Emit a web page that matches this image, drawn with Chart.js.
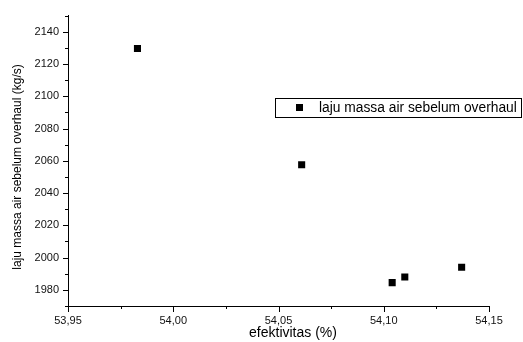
<!DOCTYPE html>
<html><head><meta charset="utf-8">
<script src="https://cdn.jsdelivr.net/npm/chart.js@4/dist/chart.umd.min.js"></script>
<style>html,body{margin:0;padding:0;background:#fff}#wrap{width:523px;height:342px}</style>
</head><body><div id="wrap"><canvas id="c" width="523" height="342"></canvas></div>
<script>
const seriesLabel = 'laju massa air sebelum overhaul';
const efektivitas = [53.983, 54.061, 54.104, 54.110, 54.137];
const lajuMassa = [2129.6, 2057.5, 1984.5, 1988.0, 1994.0];
const xTicks = [53.95, 54.00, 54.05, 54.10, 54.15];
const yTicks = [1980, 2000, 2020, 2040, 2060, 2080, 2100, 2120, 2140];
const xTitle = 'efektivitas (%)';
const yTitle = 'laju massa air sebelum overhaul (kg/s)';

const FONT = '"Liberation Sans", Arial, sans-serif';

const extras = {
  id: 'extras',
  afterDraw(chart) {
    const ctx = chart.ctx, xs = chart.scales.x, ys = chart.scales.y;
    const ca = chart.chartArea;
    ctx.save();
    ctx.strokeStyle = '#000'; ctx.lineWidth = 1;
    for (let v = 1970; v <= 2150; v += 10) {
      const p = Math.round(ys.getPixelForValue(v)) + 0.5;
      const len = (v % 20 === 0) ? 5 : 3;
      ctx.beginPath(); ctx.moveTo(ca.left - len, p); ctx.lineTo(ca.left, p); ctx.stroke();
    }
    for (let i = 0; i <= 8; i++) {
      const v = 53.95 + i * 0.025;
      const p = Math.round(xs.getPixelForValue(v)) + 0.5;
      const len = (i % 2 === 0) ? 6 : 3;
      ctx.beginPath(); ctx.moveTo(p, ca.bottom); ctx.lineTo(p, ca.bottom + len); ctx.stroke();
    }
    ctx.fillStyle = '#000';
    ctx.font = '14px ' + FONT;
    ctx.textAlign = 'center'; ctx.textBaseline = 'middle';
    ctx.fillText(xTitle, 293, 333);
    ctx.font = '12px ' + FONT;
    ctx.save();
    ctx.translate(18, 167); ctx.rotate(-Math.PI / 2);
    ctx.fillText(yTitle, 0, 0);
    ctx.restore();
    ctx.strokeStyle = '#000'; ctx.lineWidth = 1;
    ctx.strokeRect(275.5, 98.5, 246, 19);
    ctx.fillRect(296, 104, 7, 7);
    ctx.font = '13.8px ' + FONT;
    ctx.textAlign = 'left'; ctx.textBaseline = 'middle';
    ctx.fillText(chart.data.datasets[0].label, 319, 108);
    ctx.restore();
  }
};

new Chart(document.getElementById('c'), {
  type: 'scatter',
  data: {
    datasets: [{
      label: seriesLabel,
      data: efektivitas.map((x, i) => ({ x, y: lajuMassa[i] })),
      pointStyle: 'rect',
      pointRadius: 5,
      pointHoverRadius: 5,
      borderWidth: 0,
      backgroundColor: '#000',
      borderColor: '#000'
    }]
  },
  options: {
    responsive: false,
    animation: false,
    devicePixelRatio: 1,
    layout: { padding: { left: 0, top: 13, right: 34, bottom: 0 } },
    plugins: { legend: { display: false }, tooltip: { enabled: false } },
    scales: {
      x: {
        type: 'linear', min: 53.95, max: 54.15,
        afterBuildTicks(s) { s.ticks = xTicks.map(v => ({ value: v })); },
        afterFit(s) { s.height = 36; },
        grid: { display: false, drawTicks: false },
        border: { display: true, color: '#000', width: 1 },
        ticks: {
          color: '#111', padding: 8, maxRotation: 0, autoSkip: false,
          font: { family: FONT, size: 11 },
          callback: v => Number(v).toFixed(2).replace('.', ',')
        }
      },
      y: {
        type: 'linear', min: 1970, max: 2150,
        afterBuildTicks(s) { s.ticks = yTicks.map(v => ({ value: v })); },
        afterFit(s) { s.width = 68; },
        grid: { display: false, drawTicks: false },
        border: { display: true, color: '#000', width: 1 },
        ticks: {
          color: '#111', padding: 9, autoSkip: false,
          font: { family: FONT, size: 11 },
          callback: v => String(v)
        }
      }
    }
  },
  plugins: [extras]
});
</script>
</body></html>
